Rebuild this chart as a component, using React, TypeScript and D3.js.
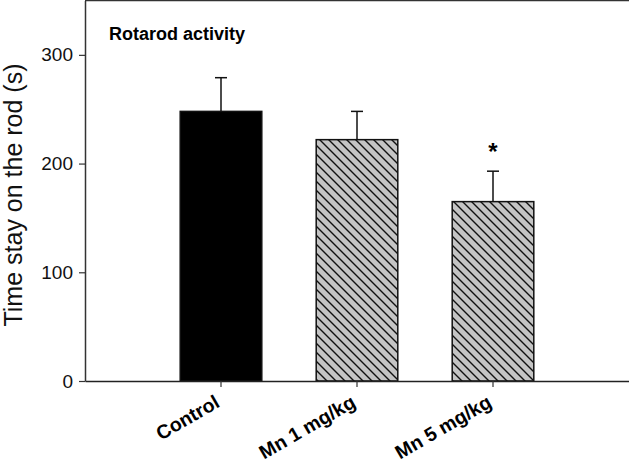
import React, { useEffect, useRef } from "react";
import * as d3 from "d3";

const groups = ["Control", "Mn 1 mg/kg", "Mn 5 mg/kg"];
const means = [248, 222, 165];
const sems = [31, 26, 28];
const significant = [false, false, true];
const yTicks = [0, 100, 200, 300];

const FONT = "'Liberation Sans', Arial, Helvetica, sans-serif";

const App = () => {
  const svgRef = useRef<SVGSVGElement>(null);

  useEffect(() => {
    const width = 629;
    const height = 471;
    const left = 85;
    const right = 629;
    const top = 0.5;
    const bottom = 381;

    const svg = d3.select(svgRef.current);
    svg.selectAll("*").remove();
    svg.attr("width", width).attr("height", height);

    // hatch pattern
    const defs = svg.append("defs");
    const pat = defs.append("pattern")
      .attr("id", "hatch")
      .attr("patternUnits", "userSpaceOnUse")
      .attr("width", 9)
      .attr("height", 9);
    pat.append("rect").attr("width", 9).attr("height", 9).attr("fill", "#c4c4c4");
    pat.append("path")
      .attr("d", "M0,0 L9,9 M-1,8 L1,10 M8,-1 L10,1")
      .attr("stroke", "#111")
      .attr("stroke-width", 1.4);

    const x = d3.scaleBand()
      .domain(groups)
      .range([left, right])
      .paddingInner(0.4)
      .paddingOuter(0.7);

    const y = d3.scaleLinear()
      .domain([0, 350])
      .range([bottom, top]);

    const data = groups.map((g, i) => ({ g, mean: means[i], sem: sems[i], sig: significant[i] }));

    // error bars (behind bars)
    const capW = 12;
    data.forEach(d => {
      const cx = x(d.g)! + x.bandwidth() / 2;
      svg.append("line")
        .attr("x1", cx).attr("x2", cx)
        .attr("y1", y(d.mean)).attr("y2", y(d.mean + d.sem))
        .attr("stroke", "#111").attr("stroke-width", 1.5);
      svg.append("line")
        .attr("x1", cx - capW / 2).attr("x2", cx + capW / 2)
        .attr("y1", y(d.mean + d.sem)).attr("y2", y(d.mean + d.sem))
        .attr("stroke", "#111").attr("stroke-width", 1.5);
      if (d.sig) {
        svg.append("text")
          .attr("x", cx)
          .attr("y", y(d.mean + d.sem) - 11)
          .attr("text-anchor", "middle")
          .style("font-family", FONT)
          .style("font-weight", "bold")
          .style("font-size", "24px")
          .text("*");
      }
    });

    // bars
    svg.selectAll(".bar")
      .data(data)
      .enter()
      .append("rect")
      .attr("x", d => x(d.g)!)
      .attr("y", d => y(d.mean))
      .attr("width", x.bandwidth())
      .attr("height", d => bottom - y(d.mean))
      .attr("fill", (d, i) => (i === 0 ? "#000" : "url(#hatch)"))
      .attr("stroke", "#111")
      .attr("stroke-width", 1.5);

    // frame top
    svg.append("line")
      .attr("x1", left).attr("x2", right)
      .attr("y1", top).attr("y2", top)
      .attr("stroke", "#333").attr("stroke-width", 1.5);

    // y axis
    const yAxis = svg.append("g")
      .attr("transform", `translate(${left},0)`)
      .call(d3.axisLeft(y).tickValues(yTicks).tickSize(6).tickPadding(6).tickSizeOuter(0));
    yAxis.select(".domain").attr("stroke", "#333").attr("stroke-width", 1.5);
    yAxis.selectAll(".tick line").attr("stroke", "#333").attr("stroke-width", 1.2);
    yAxis.selectAll("text")
      .attr("fill", "#111")
      .style("font-family", FONT)
      .style("font-size", "19px");

    // x axis
    const xAxis = svg.append("g")
      .attr("transform", `translate(0,${bottom})`)
      .call(d3.axisBottom(x).tickSize(6).tickSizeOuter(0));
    xAxis.select(".domain").attr("stroke", "#222").attr("stroke-width", 1.5);
    xAxis.selectAll(".tick line").attr("stroke", "#333").attr("stroke-width", 1.2);
    xAxis.selectAll("text").remove();

    // rotated x labels
    groups.forEach(g => {
      const cx = x(g)! + x.bandwidth() / 2;
      svg.append("text")
        .attr("transform", `translate(${cx},${bottom + 25}) rotate(-30)`)
        .attr("text-anchor", "end")
        .attr("fill", "#000")
        .style("font-family", FONT)
        .style("font-weight", "bold")
        .style("font-size", "19.5px")
        .text(g);
    });

    // y label
    svg.append("text")
      .attr("transform", "rotate(-90)")
      .attr("x", -195)
      .attr("y", 22)
      .attr("text-anchor", "middle")
      .attr("fill", "#111")
      .style("font-family", FONT)
      .style("font-size", "25px")
      .text("Time stay on the rod (s)");

    // title
    svg.append("text")
      .attr("x", 109)
      .attr("y", 39.5)
      .attr("fill", "#000")
      .style("font-family", FONT)
      .style("font-weight", "bold")
      .style("font-size", "18px")
      .text("Rotarod activity");
  }, []);

  return <svg ref={svgRef} style={{ position: "absolute", left: 0, top: 0, background: "#fff" }}></svg>;
};

export default App;
